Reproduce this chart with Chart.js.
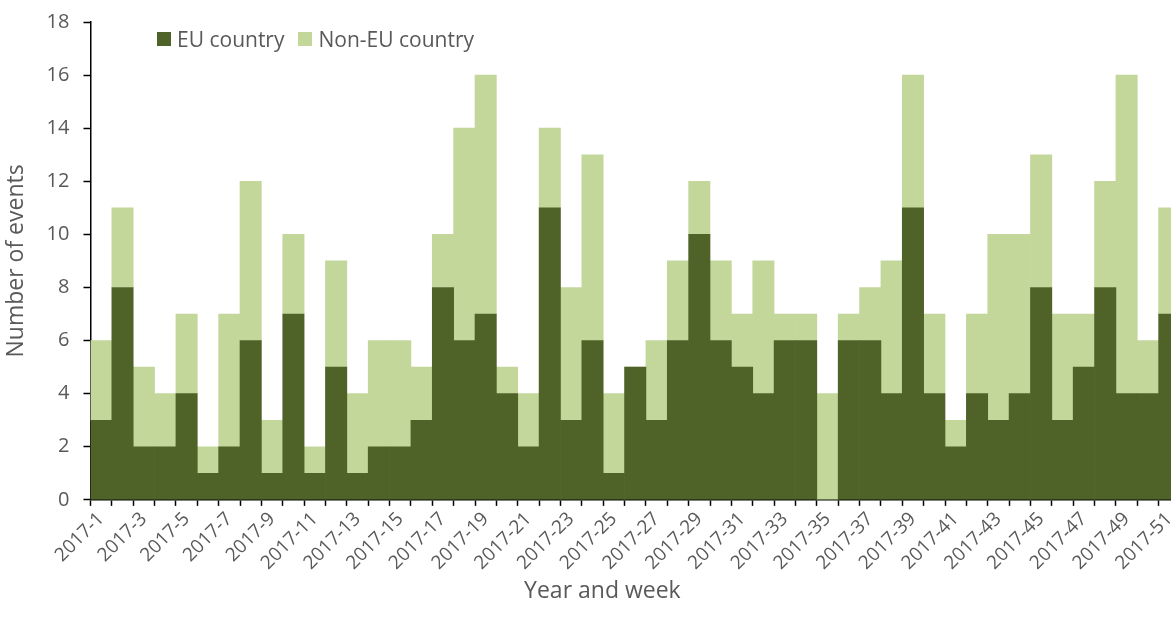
<!DOCTYPE html>
<html>
<head>
<meta charset="utf-8">
<script src="https://cdn.jsdelivr.net/npm/chart.js@4.4.0/dist/chart.umd.min.js"></script>
<style>
  html, body { margin: 0; padding: 0; background: #fff; overflow: hidden; }
  #wrap { position: relative; width: 1190px; height: 626px; }
  #legend { position: absolute; left: 157px; top: 25px; display: flex; font-family: "Open Sans", sans-serif; font-size: 21px; color: #595959; }
  #legend .item { display: flex; align-items: center; margin-right: 14px; }
  #legend .box { width: 14px; height: 14px; margin-right: 6px; }
</style>
</head>
<body>
<div id="wrap">
  <canvas id="chart"></canvas>
  <div id="legend"></div>
</div>
<script>
const weeks = ['2017-1','2017-2','2017-3','2017-4','2017-5','2017-6','2017-7','2017-8','2017-9','2017-10',
  '2017-11','2017-12','2017-13','2017-14','2017-15','2017-16','2017-17','2017-18','2017-19','2017-20',
  '2017-21','2017-22','2017-23','2017-24','2017-25','2017-26','2017-27','2017-28','2017-29','2017-30',
  '2017-31','2017-32','2017-33','2017-34','2017-35','2017-36','2017-37','2017-38','2017-39','2017-40',
  '2017-41','2017-42','2017-43','2017-44','2017-45','2017-46','2017-47','2017-48','2017-49','2017-50',
  '2017-51']
const euCountry = [3,8,2,2,4,1,2,6,1,7, 1,5,1,2,2,3,8,6,7,4, 2,11,3,6,1,5,3,6,10,6, 5,4,6,6,0,6,6,4,11,4, 2,4,3,4,8,3,5,8,4,4, 7]
const nonEuCountry = [3,3,3,2,3,1,5,6,2,3, 1,4,3,4,4,2,2,8,9,1, 2,3,5,7,3,0,3,3,2,3, 2,5,1,1,4,1,2,5,5,3, 1,3,7,6,5,4,2,4,12,2, 4]

const textColor = '#595959'
const font = "'Open Sans', sans-serif"

const datasets = [
  { label: 'EU country', data: euCountry, backgroundColor: '#4F6228' },
  { label: 'Non-EU country', data: nonEuCountry, backgroundColor: '#C4D79B' }
]

const chart = new Chart(document.getElementById('chart').getContext('2d'), {
  type: 'bar',
  data: {
    labels: weeks,
    datasets: datasets.map(d => ({
      ...d,
      borderWidth: 0,
      categoryPercentage: 1,
      barPercentage: 1
    }))
  },
  options: {
    responsive: true,
    maintainAspectRatio: false,
    animation: false,
    layout: { padding: { top: 0, right: 10, left: 3, bottom: 21 } },
    plugins: {
      legend: { display: false },
      tooltip: { enabled: false }
    },
    scales: {
      x: {
        stacked: true,
        grid: { offset: true, drawOnChartArea: false, drawTicks: true, tickLength: 6, tickColor: '#000', tickWidth: 1.5 },
        border: { color: '#000', width: 1.5 },
        ticks: {
          autoSkip: false,
          maxRotation: 45,
          minRotation: 45,
          padding: 2,
          color: textColor,
          font: { family: font, size: 19 },
          callback: (v, i) => i % 2 === 0 ? weeks[i] : ''
        },
        title: {
          display: true,
          // trailing spaces nudge the centred title left, like the excel original
          text: 'Year and week' + '\u00a0'.repeat(11),
          color: textColor,
          font: { family: font, size: 23 },
          padding: { top: 1, bottom: 0 }
        }
      },
      y: {
        stacked: true,
        min: 0,
        max: 18,
        // tick padding also pads the top of the chart area, pull it back
        afterFit: s => { s.paddingTop = 22 },
        grid: { drawOnChartArea: false, drawTicks: true, tickLength: 7, tickColor: '#000', tickWidth: 1.5 },
        border: { color: '#000', width: 1.5 },
        ticks: {
          stepSize: 2,
          padding: 14,
          color: textColor,
          font: { family: font, size: 20 }
        },
        title: {
          display: true,
          text: 'Number of events',
          color: textColor,
          font: { family: font, size: 23 },
          padding: { top: 0, bottom: 2 }
        }
      }
    }
  }
})

// html legend
const legendEl = document.getElementById('legend')
chart.data.datasets.forEach(ds => {
  const item = document.createElement('div')
  item.className = 'item'
  item.innerHTML = `<span class="box" style="background:${ds.backgroundColor}"></span><span>${ds.label}</span>`
  legendEl.appendChild(item)
})
</script>
</body>
</html>
